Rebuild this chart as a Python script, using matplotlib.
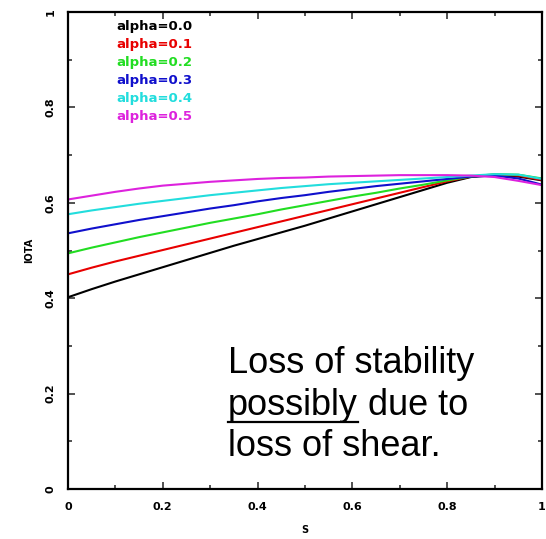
import matplotlib
matplotlib.use('Agg')
import matplotlib.pyplot as plt
from matplotlib.lines import Line2D

s = [0.0, 0.05, 0.1, 0.15, 0.2, 0.25, 0.3, 0.35, 0.4, 0.45, 0.5,
     0.55, 0.6, 0.65, 0.7, 0.75, 0.8, 0.85, 0.9, 0.95, 1.0]

iota_a00 = [0.402, 0.419, 0.435, 0.450, 0.465, 0.480, 0.495, 0.510, 0.524, 0.538, 0.552,
            0.567, 0.582, 0.597, 0.612, 0.627, 0.642, 0.654, 0.658, 0.655, 0.647]
iota_a01 = [0.450, 0.464, 0.477, 0.489, 0.501, 0.513, 0.525, 0.537, 0.549, 0.561, 0.573,
            0.585, 0.597, 0.609, 0.621, 0.633, 0.645, 0.655, 0.659, 0.657, 0.648]
iota_a02 = [0.494, 0.506, 0.517, 0.528, 0.538, 0.548, 0.558, 0.567, 0.576, 0.586, 0.595,
            0.604, 0.613, 0.621, 0.630, 0.638, 0.647, 0.655, 0.660, 0.659, 0.651]
iota_a03 = [0.536, 0.546, 0.555, 0.564, 0.572, 0.580, 0.588, 0.595, 0.603, 0.610, 0.616,
            0.623, 0.629, 0.635, 0.640, 0.645, 0.650, 0.655, 0.657, 0.651, 0.638]
iota_a04 = [0.576, 0.584, 0.591, 0.598, 0.604, 0.610, 0.616, 0.621, 0.626, 0.631, 0.635,
            0.639, 0.642, 0.645, 0.648, 0.651, 0.654, 0.657, 0.660, 0.659, 0.650]
iota_a05 = [0.607, 0.615, 0.623, 0.630, 0.636, 0.640, 0.644, 0.647, 0.650, 0.652, 0.653,
            0.655, 0.656, 0.657, 0.658, 0.658, 0.658, 0.657, 0.654, 0.646, 0.637]

labels = ['alpha=0.0', 'alpha=0.1', 'alpha=0.2', 'alpha=0.3', 'alpha=0.4', 'alpha=0.5']
colors = ['black', '#e80000', '#22dd22', '#1010cc', '#22dddd', '#dd22dd']
series = [iota_a00, iota_a01, iota_a02, iota_a03, iota_a04, iota_a05]

fig = plt.figure(figsize=(5.46, 5.39), dpi=100)
ax = fig.add_axes([68/546, 1-489/539, 474/546, 477/539])

for y, c, lab in zip(series, colors, labels):
    ax.plot(s, y, color=c, lw=1.5, label=lab)

ax.set_xlim(0, 1)
ax.set_ylim(0, 1)
ax.set_xticks([0, 0.2, 0.4, 0.6, 0.8, 1])
ax.set_xticklabels(['0', '0.2', '0.4', '0.6', '0.8', '1'])
ax.set_yticks([0, 0.2, 0.4, 0.6, 0.8, 1])
ax.set_yticklabels(['0', '0.2', '0.4', '0.6', '0.8', '1'], rotation=90, va='center')
ax.set_xticks([0.1, 0.3, 0.5, 0.7, 0.9], minor=True)
ax.set_yticks([0.1, 0.3, 0.5, 0.7, 0.9], minor=True)
ax.tick_params(which='both', direction='in', top=True, right=True,
               labelsize=8, width=1.2, color='#333333', pad=9)
ax.tick_params(which='major', length=5)
ax.tick_params(which='minor', length=3)
for lbl in ax.get_xticklabels() + ax.get_yticklabels():
    lbl.set_fontweight('bold')
for sp in ax.spines.values():
    sp.set_linewidth(1.6)

ax.set_xlabel('S', fontsize=7, fontweight='bold', labelpad=10)
ax.set_ylabel('IOTA', fontsize=7, fontweight='bold', labelpad=8)

leg = ax.legend(loc='upper left', bbox_to_anchor=(0.085, 1.0), frameon=False,
                handlelength=0, handletextpad=0, labelcolor='linecolor',
                prop={'size': 9.5, 'weight': 'bold'}, labelspacing=0.38,
                borderaxespad=0.2)
for h in leg.legend_handles:
    h.set_visible(False)

# annotation text
fam = ['Liberation Sans', 'DejaVu Sans']
x0 = 228/546
fig.text(x0, 1-373/539, 'Loss of stability', fontsize=26, family=fam, va='baseline')
t2 = fig.text(x0, 1-415/539, 'possibly', fontsize=26, family=fam, va='baseline')
fig.canvas.draw()
bb = t2.get_window_extent()
fig.text(bb.x1/546, 1-415/539, ' due to', fontsize=26, family=fam, va='baseline')
fig.add_artist(Line2D([bb.x0/546, bb.x1/546], [1-422/539, 1-422/539],
                      color='black', lw=1.6, transform=fig.transFigure))
fig.text(x0, 1-456/539, 'loss of shear.', fontsize=26, family=fam, va='baseline')

fig.savefig('out.png', dpi=100)
